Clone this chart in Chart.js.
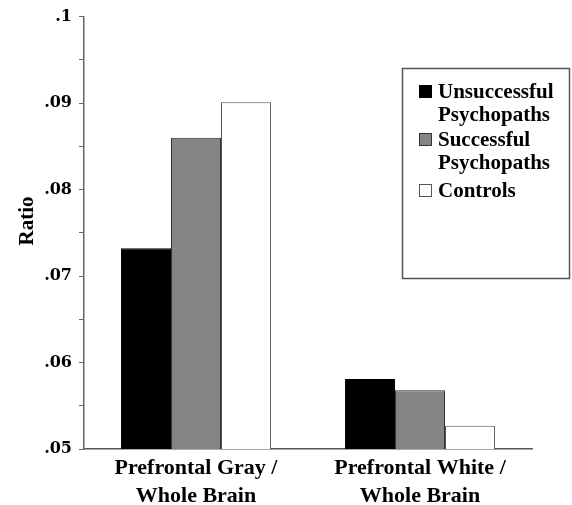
<!DOCTYPE html>
<html>
<head>
<meta charset="utf-8">
<script src="https://cdn.jsdelivr.net/npm/chart.js@4.4.1/dist/chart.umd.min.js"></script>
<style>
  html, body { margin: 0; padding: 0; background: #fff; }
  #wrap { width: 572px; height: 505px; position: relative; }
</style>
</head>
<body>
<div id="wrap"><canvas id="chart"></canvas></div>
<script>
// data
const categories = [['Prefrontal Gray /', 'Whole Brain'], ['Prefrontal White /', 'Whole Brain']];
const groupNames = [['Unsuccessful', 'Psychopaths'], ['Successful', 'Psychopaths'], ['Controls']];
const unsuccessful = [0.0732, 0.0581];
const successful = [0.0860, 0.0568];
const controls = [0.0901, 0.0527];
const yTicks = [0.05, 0.06, 0.07, 0.08, 0.09, 0.1];

const FONT = '"Liberation Serif", "Times New Roman", serif';
const WIDE = '"DejaVu Serif", serif';

// boxed legend in the upper right + rotated "Ratio"
const boxLegend = {
  id: 'boxLegend',
  afterDraw(chart) {
    const ctx = chart.ctx;
    const x0 = 402, y0 = 68, w = 167, h = 210;
    ctx.save();
    ctx.strokeStyle = '#555';
    ctx.lineWidth = 1.5;
    ctx.strokeRect(x0 + 0.5, y0 + 0.5, w, h);
    ctx.font = 'bold 21px ' + FONT;
    ctx.textBaseline = 'alphabetic';
    const rowsY = [98, 146, 197];
    chart.data.datasets.forEach((ds, i) => {
      const sy = rowsY[i];
      ctx.fillStyle = ds.backgroundColor;
      ctx.fillRect(419, sy - 13, 13, 13);
      ctx.strokeStyle = ds.borderColor;
      ctx.lineWidth = 1;
      ctx.strokeRect(419.5, sy - 12.5, 12, 12);
      ctx.fillStyle = '#000';
      ds.legendLines.forEach((line, k) => {
        ctx.fillText(line, 438, sy + k * 23);
      });
    });
    // axis title
    ctx.translate(28, 221);
    ctx.rotate(-Math.PI / 2);
    ctx.font = 'bold 21px ' + FONT;
    ctx.textAlign = 'center';
    ctx.textBaseline = 'middle';
    ctx.fillStyle = '#000';
    ctx.fillText('Ratio', 0, 0);
    ctx.restore();
  }
};

new Chart(document.getElementById('chart'), {
  type: 'bar',
  data: {
    labels: categories,
    datasets: [
      { label: 'Unsuccessful Psychopaths', legendLines: groupNames[0], data: unsuccessful, backgroundColor: '#000000', borderColor: '#000000', borderWidth: 1 },
      { label: 'Successful Psychopaths', legendLines: groupNames[1], data: successful, backgroundColor: '#858585', borderColor: '#333333', borderWidth: 1 },
      { label: 'Controls', legendLines: groupNames[2], data: controls, backgroundColor: '#ffffff', borderColor: '#555555', borderWidth: 1 }
    ]
  },
  options: {
    responsive: true,
    maintainAspectRatio: false,
    animation: false,
    layout: { padding: { top: 16, right: 40, left: 0, bottom: 0 } },
    plugins: { legend: { display: false }, tooltip: { enabled: false } },
    datasets: { bar: { categoryPercentage: 0.67, barPercentage: 1 } },
    scales: {
      x: {
        grid: { display: false, drawTicks: false },
        border: { display: true, color: '#555', width: 1.5 },
        ticks: { color: '#000', font: { family: FONT, size: 22, weight: 'bold', lineHeight: 1.25 }, padding: 6, maxRotation: 0, autoSkip: false },
        afterFit(scale) { scale.height = 56; }
      },
      y: {
        min: 0.05,
        max: 0.1,
        grid: { drawOnChartArea: false, drawTicks: true, tickLength: 5, color: '#666' },
        border: { display: true, color: '#666', width: 1.5 },
        afterBuildTicks(scale) {
          const t = [];
          for (let i = 0; i < yTicks.length - 1; i++) {
            t.push({ value: yTicks[i] });
            t.push({ value: (yTicks[i] + yTicks[i + 1]) / 2 });
          }
          t.push({ value: yTicks[yTicks.length - 1] });
          scale.ticks = t;
        },
        ticks: {
          color: '#000',
          font: { family: WIDE, size: 16, weight: 'bold' },
          padding: 7,
          callback(v) {
            const hit = yTicks.find(y => Math.abs(y - v) < 1e-9);
            if (hit === undefined) return '';
            return String(+hit.toFixed(2)).replace(/^0/, '');
          }
        },
        afterFit(scale) { scale.width = 84; }
      }
    }
  },
  plugins: [boxLegend]
});
</script>
</body>
</html>
